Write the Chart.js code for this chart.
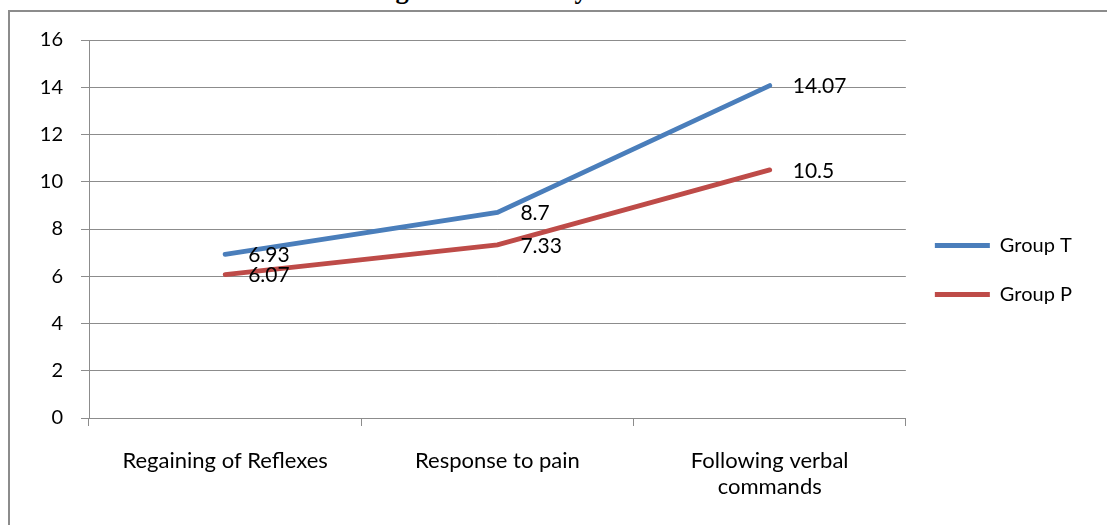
<!DOCTYPE html>
<html>
<head>
<meta charset="utf-8">
<script src="https://cdn.jsdelivr.net/npm/chart.js@4.4.0/dist/chart.umd.min.js"></script>
<style>
  html, body { margin: 0; padding: 0; background: #fff; overflow: hidden; }
  body { width: 1107px; height: 525px; position: relative; }
  #title {
    position: absolute; left: 372px; top: -24px;
    font: bold 26.5px "Liberation Serif", "Times New Roman", serif;
    line-height: 26px; white-space: nowrap; color: #000;
  }
  #frame {
    position: absolute; left: 8px; top: 10px; width: 1200px; height: 600px;
    border: 2px solid #8c8c8c;
  }
  #wrap { position: absolute; left: 0; top: 0; width: 1107px; height: 525px; }
</style>
</head>
<body>
<div id="title">Figure 3: Recovery characteristics</div>
<div id="frame"></div>
<div id="wrap"><canvas id="chart"></canvas></div>
<script>
const categories = ["Regaining of Reflexes", "Response to pain", ["Following verbal", "commands"]];
const groupT = [6.93, 8.7, 14.07];
const groupP = [6.07, 7.33, 10.5];
const yTicks = [0, 2, 4, 6, 8, 10, 12, 14, 16];

const FONT = "Lato";
const GRID = "#8c8c8c";

// value labels to the right of each point
const pointLabels = {
    id: "pointLabels",
    afterDatasetsDraw(chart) {
        const ctx = chart.ctx;
        ctx.save();
        ctx.font = "21px " + FONT;
        ctx.fillStyle = "#000";
        ctx.textAlign = "left";
        ctx.textBaseline = "middle";
        chart.data.datasets.forEach((ds, i) => {
            chart.getDatasetMeta(i).data.forEach((pt, j) => {
                ctx.fillText(String(ds.data[j]), pt.x + 23, pt.y + 1);
            });
        });
        ctx.restore();
    }
};

new Chart(document.getElementById("chart"), {
    type: "line",
    data: {
        labels: categories,
        datasets: [
            {
                label: "Group T",
                data: groupT,
                borderColor: "#4a7ebb",
                backgroundColor: "#4a7ebb",
                borderWidth: 4.8,
                borderCapStyle: "round",
                pointRadius: 0,
                pointHoverRadius: 0,
                tension: 0,
            },
            {
                label: "Group P",
                data: groupP,
                borderColor: "#be4b48",
                backgroundColor: "#be4b48",
                borderWidth: 4.8,
                borderCapStyle: "round",
                pointRadius: 0,
                pointHoverRadius: 0,
                tension: 0,
            },
        ],
    },
    options: {
        responsive: true,
        maintainAspectRatio: false,
        animation: false,
        layout: { padding: { top: 40, bottom: 25, right: 25, left: 0 } },
        plugins: {
            title: { display: false },
            tooltip: { enabled: false },
            legend: {
                position: "right",
                labels: {
                    usePointStyle: true,
                    pointStyle: "line",
                    pointStyleWidth: 55,
                    boxHeight: 4,
                    padding: 29,
                    color: "#000",
                    font: { family: FONT, size: 20 },
                },
            },
        },
        scales: {
            x: {
                offset: true,
                grid: {
                    offset: true,
                    drawOnChartArea: false,
                    drawTicks: true,
                    tickLength: 8,
                    color: GRID,
                },
                border: { color: GRID, width: 1 },
                ticks: {
                    color: "#000",
                    padding: 22,
                    maxRotation: 0,
                    font: { family: FONT, size: 22, lineHeight: 1.18 },
                },
                afterFit(scale) { scale.height = 82; },
            },
            y: {
                min: 0,
                max: 16,
                afterBuildTicks(scale) { scale.ticks = yTicks.map(v => ({ value: v })); },
                grid: { color: GRID, tickLength: 8 },
                border: { color: GRID, width: 1 },
                ticks: {
                    color: "#000",
                    padding: 18,
                    font: { family: FONT, size: 20 },
                },
                afterFit(scale) { scale.width = 89; },
            },
        },
    },
    plugins: [pointLabels],
});
</script>
</body>
</html>
